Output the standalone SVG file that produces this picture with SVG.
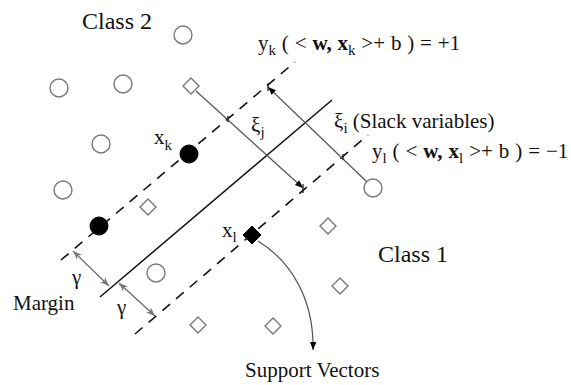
<svg xmlns="http://www.w3.org/2000/svg" xmlns:xlink="http://www.w3.org/1999/xlink" width="571" height="385" viewBox="0 0 571 385">
<style>
text{font-family:"Liberation Serif","Times New Roman",serif;fill:#111;}
.big{font-size:24px;}
.f{font-size:21px;}
.sub{font-size:15px;}
.lbl{font-size:21px;}
.hyper{stroke:#111;stroke-width:1.5;fill:none;}
.dash{stroke:#111;stroke-width:1.6;fill:none;stroke-dasharray:10,8;}
.slack{stroke:#555;stroke-width:1.2;fill:none;}
.tick{stroke:#222;stroke-width:1.3;}
.gam{stroke:#666;stroke-width:1.2;fill:none;}
.oc{fill:#fff;stroke:#777;stroke-width:1.4;}
.fc{fill:#000;stroke:#000;}
</style>
<defs>
<marker id="ah" viewBox="0 0 10 10" refX="10" refY="5" markerWidth="8" markerHeight="8" markerUnits="userSpaceOnUse" orient="auto"><path d="M0,1 L10,5 L0,9 Z" fill="#000"/></marker>
<marker id="ag" viewBox="0 0 10 10" refX="10" refY="5" markerWidth="9" markerHeight="9" markerUnits="userSpaceOnUse" orient="auto-start-reverse"><path d="M0,1 L10,5 L0,9 L3,5 Z" fill="#777"/></marker>
<path id="dia" d="M0,-8 L8,0 L0,8 L-8,0 Z"/>
</defs>

<g id="lines">
<line id="hyperplane" class="hyper" x1="100" y1="297" x2="332" y2="100"/>
<line id="margin-upper" class="dash" x1="61" y1="260" x2="295" y2="62"/>
<line id="margin-lower" class="dash" x1="135" y1="334" x2="368" y2="135"/>
</g>

<g id="connectors">
<line class="slack" x1="196" y1="91" x2="303" y2="188" marker-end="url(#ah)"/>
<line class="slack" x1="366.5" y1="181.5" x2="268" y2="87" marker-end="url(#ah)"/>
<line class="tick" x1="228" y1="116" x2="228" y2="122"/>
<line class="tick" x1="303" y1="184" x2="303" y2="193"/>
<line class="tick" x1="268" y1="83" x2="268" y2="91"/>
<line class="tick" x1="343" y1="154" x2="343" y2="160"/>
<line class="gam" x1="73" y1="251" x2="109" y2="286" marker-start="url(#ag)" marker-end="url(#ag)"/>
<line class="gam" x1="119" y1="283" x2="155" y2="316" marker-start="url(#ag)" marker-end="url(#ag)"/>
<path class="slack" d="M258,241 C292,262 314,300 313,350" marker-end="url(#ah)"/>
</g>

<g id="class2-points">
<circle class="oc" cx="183" cy="35" r="9"/>
<circle class="oc" cx="59" cy="88" r="9"/>
<circle class="oc" cx="123" cy="84" r="9"/>
<circle class="oc" cx="101" cy="144" r="9"/>
<circle class="oc" cx="63" cy="190" r="9"/>
<circle class="oc" cx="156" cy="273" r="9"/>
<circle class="oc" cx="373" cy="188" r="9"/>
<circle id="xk" class="fc" cx="189" cy="154" r="9"/>
<circle class="fc" cx="99" cy="226" r="9"/>
</g>

<g id="class1-points">
<use xlink:href="#dia" class="oc" x="191" y="86"/>
<use xlink:href="#dia" class="oc" x="148" y="207"/>
<use xlink:href="#dia" class="oc" x="328" y="226"/>
<use xlink:href="#dia" class="oc" x="340" y="286"/>
<use xlink:href="#dia" class="oc" x="198" y="325"/>
<use xlink:href="#dia" class="oc" x="273" y="326"/>
<path id="xl" class="fc" d="M252,226 L261,235 L252,244 L243,235 Z"/>
</g>

<g id="labels">
<text class="big" x="82" y="29">Class 2</text>
<text class="big" x="378" y="262">Class 1</text>
<text class="f" x="258" y="50" word-spacing="0.6">y<tspan class="sub" dy="5">k</tspan><tspan dy="-5"> ( &lt; </tspan><tspan font-weight="bold">w,</tspan> <tspan font-weight="bold">x</tspan><tspan class="sub" dy="5">k</tspan><tspan dy="-5"> &gt;+ b ) = +1</tspan></text>
<text class="f" x="372" y="158" word-spacing="0.7">y<tspan class="sub" dy="5">l</tspan><tspan dy="-5"> ( &lt; </tspan><tspan font-weight="bold">w,</tspan> <tspan font-weight="bold">x</tspan><tspan class="sub" dy="5">l</tspan><tspan dy="-5"> &gt;+ b ) = −1</tspan></text>
<text class="lbl" x="334" y="128">ξ<tspan class="sub" dy="5">i</tspan><tspan dy="-5"> (Slack variables)</tspan></text>
<text class="lbl" x="251" y="132">ξ<tspan class="sub" dy="5">j</tspan></text>
<text class="lbl" x="154" y="144">x<tspan class="sub" dy="6">k</tspan></text>
<text class="lbl" x="222" y="237">x<tspan class="sub" dy="5">l</tspan></text>
<text class="lbl" x="72" y="284">γ</text>
<text class="lbl" x="117" y="314">γ</text>
<text class="lbl" x="13" y="310">Margin</text>
<text class="lbl" x="245" y="377">Support Vectors</text>
</g>
</svg>
